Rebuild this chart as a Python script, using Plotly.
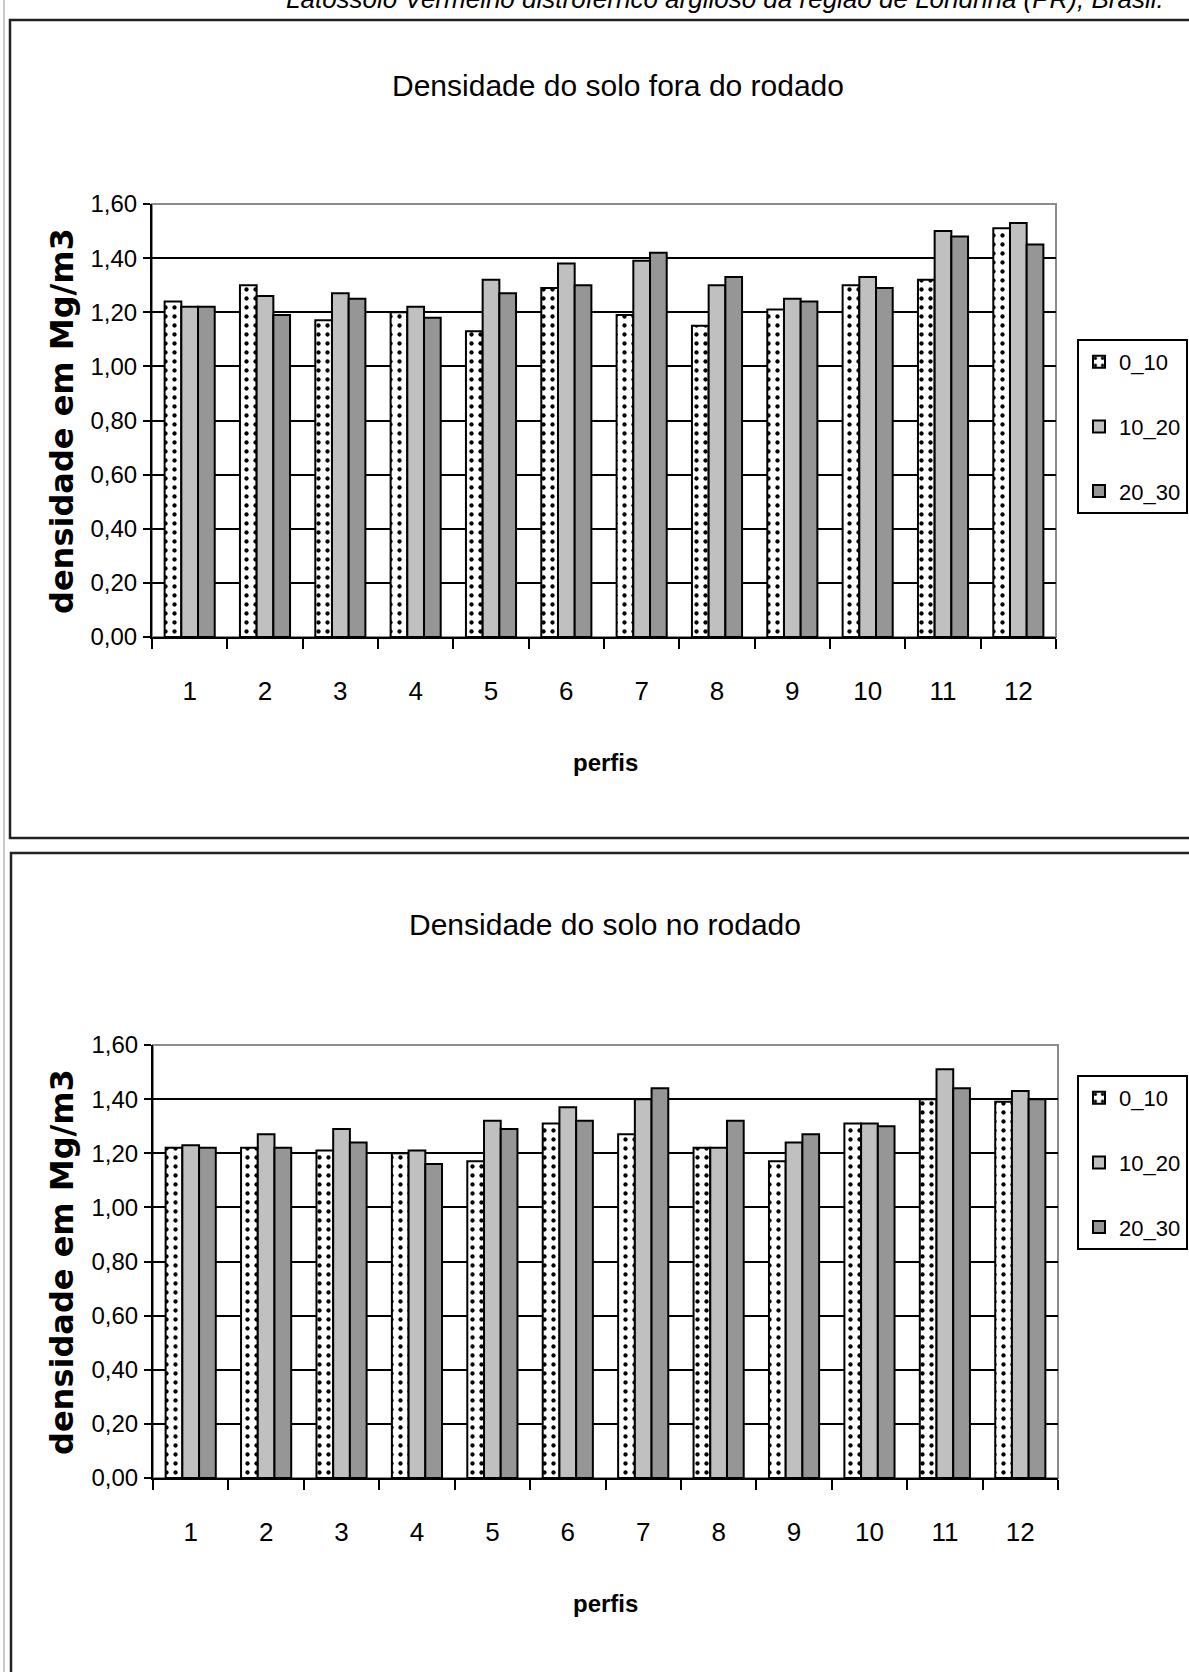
import plotly.graph_objects as go

# Soil bulk density (Mg/m3) per profile and depth layer
perfis = [str(i) for i in range(1, 13)]
camadas = ["0_10", "10_20", "20_30"]

fora_0_10 = [1.24, 1.30, 1.17, 1.20, 1.13, 1.29, 1.19, 1.15, 1.21, 1.30, 1.32, 1.51]
fora_10_20 = [1.22, 1.26, 1.27, 1.22, 1.32, 1.38, 1.39, 1.30, 1.25, 1.33, 1.50, 1.53]
fora_20_30 = [1.22, 1.19, 1.25, 1.18, 1.27, 1.30, 1.42, 1.33, 1.24, 1.29, 1.48, 1.45]

no_0_10 = [1.22, 1.22, 1.21, 1.20, 1.17, 1.31, 1.27, 1.22, 1.17, 1.31, 1.40, 1.39]
no_10_20 = [1.23, 1.27, 1.29, 1.21, 1.32, 1.37, 1.40, 1.22, 1.24, 1.31, 1.51, 1.43]
no_20_30 = [1.22, 1.22, 1.24, 1.16, 1.29, 1.32, 1.44, 1.32, 1.27, 1.30, 1.44, 1.40]

y_ticks = [0.0, 0.2, 0.4, 0.6, 0.8, 1.0, 1.2, 1.4, 1.6]

W, H = 1189, 1672
SANS = "Liberation Sans, Arial, sans-serif"
WIDE_BOLD = "DejaVu Sans, Arial, sans-serif"


def px_x(v):
    return v / W


def px_y(v):
    return 1 - v / H


fills = {
    "0_10": dict(color="white", pattern=dict(shape=".", fgcolor="black", bgcolor="white",
                                             size=9, solidity=0.18)),
    "10_20": dict(color="#c0c0c0"),
    "20_30": dict(color="#969696"),
}

fig = go.Figure()

panels = [
    ("x", "y", "legend", [fora_0_10, fora_10_20, fora_20_30]),
    ("x2", "y2", "legend2", [no_0_10, no_10_20, no_20_30]),
]
for xa, ya, leg, series in panels:
    for name, vals in zip(camadas, series):
        fig.add_trace(go.Bar(
            x=perfis, y=vals, name=name, xaxis=xa, yaxis=ya, legend=leg,
            legendgroup=leg + name,
            marker=dict(line=dict(color="black", width=2), **fills[name]),
        ))

# plot-area placement (pixels)
a1 = dict(x0=152, x1=1056, y0=204, y1=637)
a2 = dict(x0=153, x1=1058, y0=1045, y1=1478)

axis_common_x = dict(
    type="category", showline=True, linecolor="black", linewidth=2,
    ticks="outside", tickson="boundaries", ticklen=10, tickwidth=2, tickcolor="black",
    showgrid=False, ticklabelstandoff=30, automargin=False,
    tickfont=dict(family=SANS, size=26, color="black"),
)
axis_common_y = dict(
    range=[0, 1.6], tickvals=y_ticks, tickformat=".2f",
    showline=True, linecolor="black", linewidth=2,
    ticks="outside", ticklen=7, tickwidth=2, tickcolor="black",
    showgrid=True, gridcolor="black", gridwidth=2, zeroline=False,
    ticklabelstandoff=1, automargin=False,
    tickfont=dict(family=SANS, size=24, color="black"),
)

fig.update_layout(
    xaxis=dict(domain=[px_x(a1["x0"]), px_x(a1["x1"])], anchor="y", **axis_common_x),
    yaxis=dict(domain=[px_y(a1["y1"]), px_y(a1["y0"])], anchor="x", **axis_common_y),
    xaxis2=dict(domain=[px_x(a2["x0"]), px_x(a2["x1"])], anchor="y2", **axis_common_x),
    yaxis2=dict(domain=[px_y(a2["y1"]), px_y(a2["y0"])], anchor="x2", **axis_common_y),
)

legend_style = dict(
    xanchor="left", yanchor="top", bgcolor="white",
    bordercolor="black", borderwidth=2, tracegroupgap=33,
    font=dict(family=SANS, size=22, color="black"),
    itemwidth=30, traceorder="grouped",
)
fig.update_layout(
    legend=dict(x=px_x(1077), y=px_y(339), **legend_style),
    legend2=dict(x=px_x(1077), y=px_y(1075), **legend_style),
)

shapes = []
# gray plot-area borders
for xa, ya in (("x", "y"), ("x2", "y2")):
    shapes.append(dict(type="rect", xref=xa + " domain", yref=ya + " domain",
                       x0=0, x1=1, y0=0, y1=1, line=dict(color="#8c8c8c", width=2),
                       layer="below"))
# chart frames
shapes.append(dict(type="rect", xref="paper", yref="paper",
                   x0=px_x(10), x1=px_x(1200), y0=px_y(838), y1=px_y(20),
                   line=dict(color="#222222", width=2.5)))
shapes.append(dict(type="rect", xref="paper", yref="paper",
                   x0=px_x(11), x1=px_x(1200), y0=px_y(1690), y1=px_y(853),
                   line=dict(color="#222222", width=2.5)))
# page edge
shapes.append(dict(type="line", xref="paper", yref="paper",
                   x0=px_x(4), x1=px_x(4), y0=0, y1=1,
                   line=dict(color="#c8c8c8", width=2)))

annotations = []


def ann(text, x, y, size, family=SANS, bold=False, angle=0, italic=False):
    t = f"<b>{text}</b>" if bold else text
    if italic:
        t = f"<i>{t}</i>"
    annotations.append(dict(
        text=t, x=px_x(x), y=px_y(y), xref="paper", yref="paper",
        showarrow=False, xanchor="center", yanchor="middle", textangle=angle,
        font=dict(family=family, size=size, color="black"),
    ))


ann("Latossolo Vermelho distroférrico argiloso da região de Londrina (PR), Brasil.",
    725, -1, 26, italic=True)
ann("Densidade do solo fora do rodado", 618, 85, 30)
ann("Densidade do solo no rodado", 605, 925, 30)
ann("densidade em Mg/m3", 62, 421, 32, family=WIDE_BOLD, bold=True, angle=-90)
ann("densidade em Mg/m3", 62, 1262, 32, family=WIDE_BOLD, bold=True, angle=-90)
ann("perfis", 605, 762, 24, bold=True)
ann("perfis", 605, 1603, 24, bold=True)

fig.update_layout(
    template="none",
    shapes=shapes, annotations=annotations,
    width=W, height=H, margin=dict(l=0, r=0, t=0, b=0, autoexpand=False),
    paper_bgcolor="white", plot_bgcolor="white",
    barmode="group", bargap=0.335, bargroupgap=0,
    separators=",.", showlegend=True,
)

fig.write_html("out.html")
